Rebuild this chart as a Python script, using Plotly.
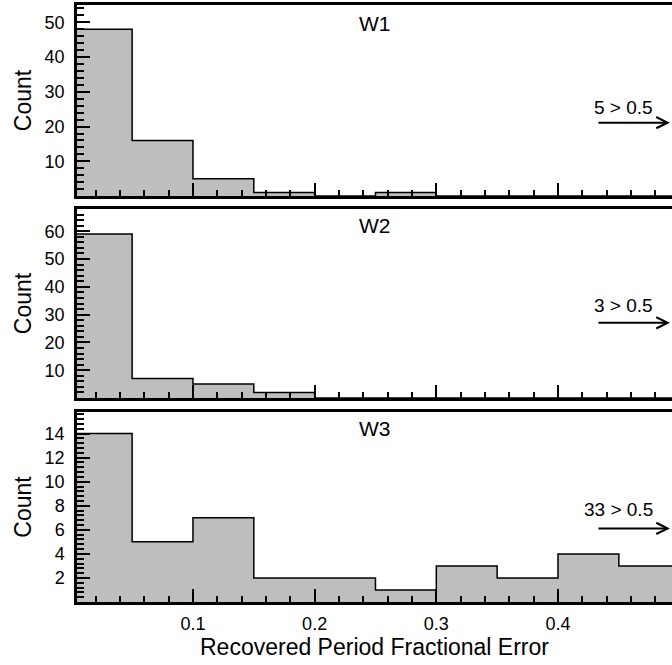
import plotly.graph_objects as go
from plotly.subplots import make_subplots

# ---------------- data ----------------
bin_left = [0.00, 0.05, 0.10, 0.15, 0.20, 0.25, 0.30, 0.35, 0.40, 0.45]
bin_last_right = 0.50
w1_counts = [48, 16, 5, 1, 0, 1, 0, 0, 0, 0]
w2_counts = [59, 7, 5, 2, 0, 0, 0, 0, 0, 0]
w3_counts = [14, 5, 7, 2, 2, 1, 3, 2, 4, 3]
panel_names = ["W1", "W2", "W3"]
overflow_counts = [5, 3, 33]
overflow_threshold = 0.5
y_ranges = [[0, 55], [0, 68], [0, 15.8]]
y_tickvals = [[10, 20, 30, 40, 50],
              [10, 20, 30, 40, 50, 60],
              [2, 4, 6, 8, 10, 12, 14]]
y_minor_step = [2, 2, 0.4]
x_tickvals = [0.1, 0.2, 0.3, 0.4]
x_ticktext = ["0.1", "0.2", "0.3", "0.4"]
x_range = [0.0047, 0.4937]
x_title = "Recovered Period Fractional Error"
y_title = "Count"

all_counts = [w1_counts, w2_counts, w3_counts]

# ---------------- style ----------------
FONT = "Liberation Sans, Arial, Helvetica, sans-serif"
FILL = "rgb(190,190,190)"
domains = [[0.680, 1.0], [0.3417, 0.6583], [0.0, 0.3183]]

fig = make_subplots(rows=3, cols=1, shared_xaxes=True, vertical_spacing=0.02)

for i, counts in enumerate(all_counts):
    xs = bin_left + [bin_last_right]
    ys = counts + [counts[-1]]
    fig.add_trace(go.Scatter(
        x=xs, y=ys, mode="lines", line_shape="hv",
        line=dict(color="black", width=1.5),
        fill="tozeroy", fillcolor=FILL,
        hoverinfo="skip", showlegend=False,
    ), row=i + 1, col=1)

for i in range(3):
    r = i + 1
    last = (r == 3)
    fig.update_xaxes(
        row=r, col=1, range=x_range,
        tickmode="array", tickvals=x_tickvals, ticktext=x_ticktext,
        showticklabels=last,
        ticks="inside", ticklen=13, tickwidth=2, tickcolor="black",
        minor=dict(tickmode="linear", tick0=0, dtick=0.02, ticks="inside",
                   ticklen=6, tickwidth=1.5, tickcolor="black"),
        showline=True, linewidth=2.5, linecolor="black", mirror=True,
        showgrid=False, zeroline=False,
        tickfont=dict(family=FONT, size=18, color="black"),
        ticklabelstandoff=4,
        title=dict(text=x_title if last else "", standoff=4,
                   font=dict(family=FONT, size=23, color="black")),
    )
    fig.update_yaxes(
        row=r, col=1, range=y_ranges[i], domain=domains[i],
        tickmode="array", tickvals=y_tickvals[i],
        ticks="inside", ticklen=13, tickwidth=2, tickcolor="black",
        minor=dict(tickmode="linear", tick0=0, dtick=y_minor_step[i],
                   ticks="inside", ticklen=7, tickwidth=1.5, tickcolor="black"),
        showline=True, linewidth=2.5, linecolor="black", mirror=False,
        showgrid=False, zeroline=False,
        tickfont=dict(family=FONT, size=18, color="black"),
        ticklabelstandoff=6,
        title=dict(text=y_title, standoff=7,
                   font=dict(family=FONT, size=23, color="black")),
    )

name_y = [0.904, 0.912, 0.914]
text_y = [0.461, 0.489, 0.488]
arrow_y = [0.384, 0.398, 0.387]
annotations = []
for i in range(3):
    yref = "y domain" if i == 0 else f"y{i + 1} domain"
    xref = "x" if i == 0 else f"x{i + 1}"
    annotations.append(dict(
        x=0.25, y=name_y[i], xref=xref, yref=yref, text=panel_names[i],
        showarrow=False, xanchor="center", yanchor="middle",
        font=dict(family=FONT, size=21, color="black")))
    annotations.append(dict(
        x=0.48, y=text_y[i], xref=xref, yref=yref,
        text=f"{overflow_counts[i]} > {overflow_threshold}",
        showarrow=False, xanchor="right", yanchor="middle",
        font=dict(family=FONT, size=19, color="black")))
    annotations.append(dict(
        x=0.492, y=arrow_y[i], xref=xref, yref=yref, text="",
        showarrow=True, ax=-73, ay=0, arrowhead=5, arrowsize=1.1,
        arrowwidth=2, arrowcolor="black", standoff=0))

fig.update_layout(
    width=672, height=665,
    margin=dict(l=77, r=0, t=5, b=63),
    plot_bgcolor="white", paper_bgcolor="white",
    showlegend=False,
    annotations=annotations,
    font=dict(family=FONT, color="black"),
)

fig.write_html("out.html")
